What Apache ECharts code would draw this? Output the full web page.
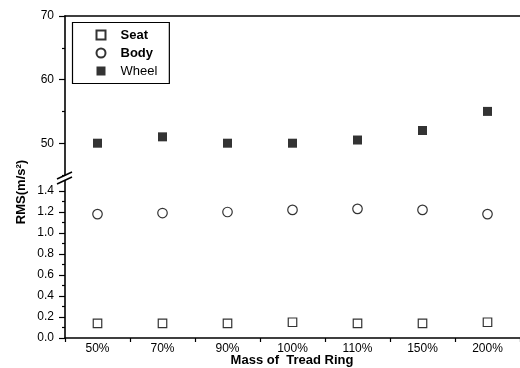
<!DOCTYPE html>
<html><head><meta charset="utf-8">
<script src="https://cdn.jsdelivr.net/npm/echarts@6/dist/echarts.min.js"></script>
<style>html,body{margin:0;padding:0;background:#fff}#c{width:520px;height:368px}</style>
</head><body><div id="c"></div>
<script>
const categories = ['50%','70%','90%','100%','110%','150%','200%'];
const seat  = [0.14, 0.14, 0.14, 0.15, 0.14, 0.14, 0.15];
const body  = [1.18, 1.19, 1.20, 1.22, 1.23, 1.22, 1.18];
const wheel = [50, 51, 50, 50, 50.5, 52, 55];
const upperTicks = [50, 60, 70];
const upperMinor = [45, 55, 65];
const lowerTicks = [0, 0.2, 0.4, 0.6, 0.8, 1.0, 1.2, 1.4];
const lowerMinor = [0.1, 0.3, 0.5, 0.7, 0.9, 1.1, 1.3];
const xName = 'Mass of  Tread Ring';
const yName = 'RMS(m/s²)';

const FONT = '"Liberation Sans", Arial, sans-serif';
const chart = echarts.init(document.getElementById('c'));
const black = '#000';
const axisLine = {show: true, lineStyle: {color: black, width: 1.6}};
const lbl = {color: black, fontFamily: FONT, fontSize: 12, margin: 11};

chart.setOption({
  animation: false,
  backgroundColor: '#fff',
  grid: [
    {left: 65, right: 0, top: 16, height: 159, outerBoundsMode: 'none', containLabel: false},
    {left: 65, right: 0, top: 180.5, height: 157.5, outerBoundsMode: 'none', containLabel: false}
  ],
  xAxis: [
    {type: 'category', data: categories, gridIndex: 0, position: 'top',
     axisLine: axisLine, axisTick: {show: false}, axisLabel: {show: false}, splitLine: {show: false}},
    {type: 'category', data: categories, gridIndex: 1, position: 'bottom',
     axisLine: axisLine, axisTick: {show: true, length: 4, lineStyle: {color: black, width: 1.2}},
     axisLabel: Object.assign({}, lbl, {margin: 5}), splitLine: {show: false}}
  ],
  yAxis: [
    {type: 'value', gridIndex: 0, min: 45, max: 70, position: 'left',
     axisLine: axisLine, splitLine: {show: false},
     axisTick: {show: true, length: 6, customValues: upperTicks, lineStyle: {color: black, width: 1.2}},
     axisLabel: Object.assign({}, lbl, {customValues: upperTicks})},
    {type: 'value', gridIndex: 0, min: 45, max: 70, position: 'left',
     axisLine: {show: false}, splitLine: {show: false}, axisLabel: {show: false},
     axisTick: {show: true, length: 3, customValues: upperMinor, lineStyle: {color: black, width: 1.2}}},
    {type: 'value', gridIndex: 1, min: 0, max: 1.5, position: 'left',
     axisLine: axisLine, splitLine: {show: false},
     axisTick: {show: true, length: 6, customValues: lowerTicks, lineStyle: {color: black, width: 1.2}},
     axisLabel: Object.assign({}, lbl, {customValues: lowerTicks, formatter: v => v.toFixed(1)})},
    {type: 'value', gridIndex: 1, min: 0, max: 1.5, position: 'left',
     axisLine: {show: false}, splitLine: {show: false}, axisLabel: {show: false},
     axisTick: {show: true, length: 3, customValues: lowerMinor, lineStyle: {color: black, width: 1.2}}}
  ],
  legend: {
    orient: 'vertical', left: 72.5, top: 22.5,
    padding: [4.5, 12, 4.5, 23], itemGap: 2, itemWidth: 9, itemHeight: 9,
    borderColor: black, borderWidth: 1.2, backgroundColor: '#fff',
    textStyle: {color: black, fontFamily: FONT, fontSize: 13, fontWeight: 'bold', padding: [0, 0, 0, 10], lineHeight: 16},
    data: [
      {name: 'Seat', icon: 'rect'},
      {name: 'Body', icon: 'circle'},
      {name: 'Wheel', icon: 'rect', textStyle: {fontWeight: 'normal'}}
    ]
  },
  series: [
    {name: 'Seat', type: 'scatter', xAxisIndex: 1, yAxisIndex: 2, data: seat,
     symbol: 'rect', symbolSize: 8.5,
     itemStyle: {color: '#fff', borderColor: black, borderWidth: 1.2}},
    {name: 'Body', type: 'scatter', xAxisIndex: 1, yAxisIndex: 2, data: body,
     symbol: 'circle', symbolSize: 9.5,
     itemStyle: {color: '#fff', borderColor: black, borderWidth: 1.2}},
    {name: 'Wheel', type: 'scatter', xAxisIndex: 0, yAxisIndex: 0, data: wheel,
     symbol: 'rect', symbolSize: 9,
     itemStyle: {color: black}}
  ],
  graphic: [
    {type: 'line', shape: {x1: 57, y1: 179, x2: 72, y2: 172}, style: {stroke: black, lineWidth: 1.5}},
    {type: 'line', shape: {x1: 57, y1: 184, x2: 72, y2: 177}, style: {stroke: black, lineWidth: 1.5}},
    {type: 'text', x: 21, y: 192, rotation: Math.PI / 2,
     style: {text: yName, fill: black, font: 'bold 13px "Liberation Sans", Arial, sans-serif',
             align: 'center', verticalAlign: 'middle'}},
    {type: 'text', x: 292, y: 360,
     style: {text: xName, fill: black, font: 'bold 13px "Liberation Sans", Arial, sans-serif',
             align: 'center', verticalAlign: 'middle'}}
  ]
});
</script>
</body></html>
